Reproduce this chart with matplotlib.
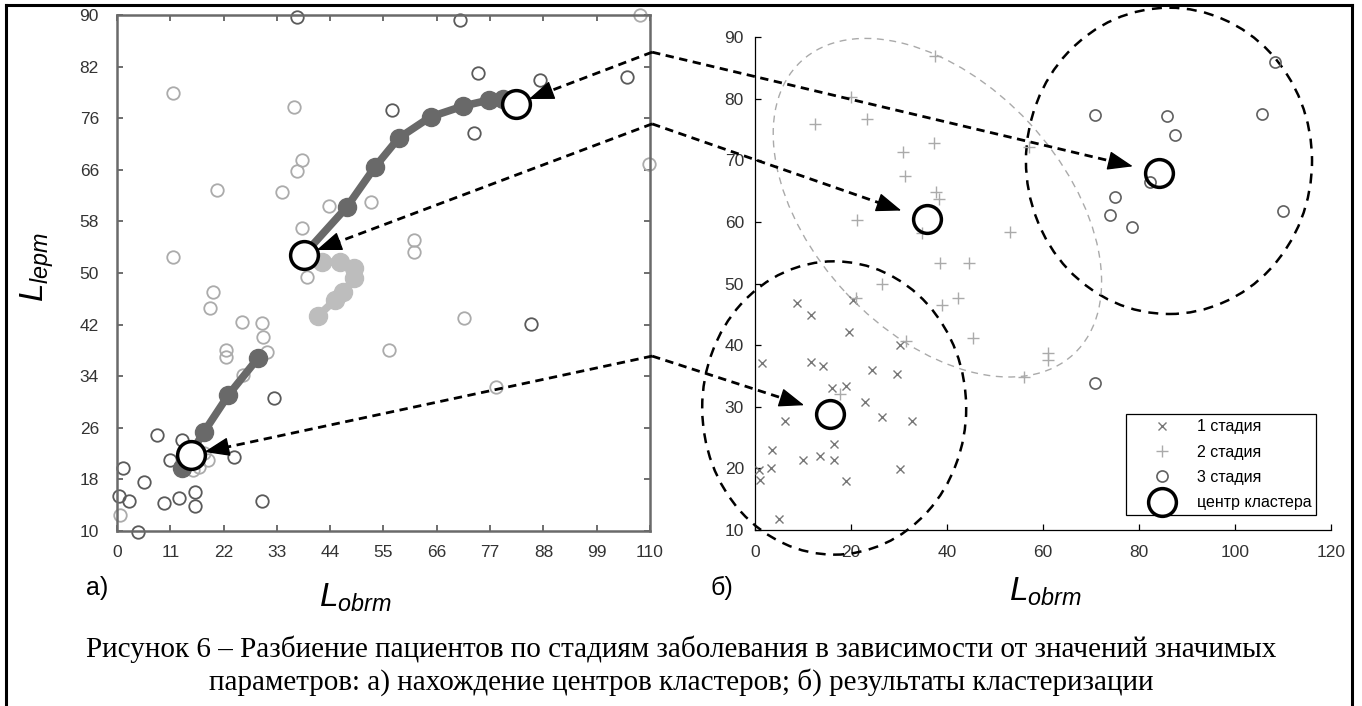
import numpy as np
import matplotlib
matplotlib.use("Agg")
import matplotlib.pyplot as plt
from matplotlib import font_manager
from matplotlib.lines import Line2D
from matplotlib.patches import Ellipse, FancyArrowPatch
from matplotlib.transforms import Affine2D, IdentityTransform

# ---------------- данные ----------------
# а) нахождение центров кластеров
dark_x = [37.1, 70.7, 56.8, 74.5, 87.2, 105.3, 73.6, 32.5, 85.4, 8.3, 13.4, 11.0, 24.2,
          1.2, 5.6, 12.8, 16.1, 16.1, 9.6, 2.5, 4.3, 30.0, 0.5]
dark_y = [89.7, 89.2, 75.3, 81.0, 80.0, 80.4, 71.7, 30.6, 42.1, 24.9, 24.1, 21.0, 21.5,
          19.8, 17.6, 15.1, 16.0, 13.9, 14.3, 14.6, 9.9, 14.6, 15.5]
light_x = [108.0, 11.6, 36.5, 109.7, 38.2, 37.1, 20.6, 34.0, 43.8, 52.5, 38.2, 61.3, 61.3,
           11.5, 39.2, 19.9, 19.1, 25.8, 30.0, 30.1, 22.4, 22.4, 30.9, 26.0, 56.2, 71.6,
           78.2, 0.7, 17.9, 18.8, 15.7, 16.9]
light_y = [90.0, 77.9, 75.7, 66.9, 67.5, 65.8, 62.9, 62.5, 60.4, 61.0, 57.0, 55.1, 53.3,
           52.5, 49.4, 47.0, 44.6, 42.4, 42.2, 40.1, 38.1, 37.0, 37.8, 34.2, 38.1, 43.0,
           32.3, 12.5, 22.1, 21.0, 19.5, 19.9]

# траектории центров
path3_x = [38.5, 47.4, 53.2, 58.1, 64.7, 71.5, 76.7, 79.6]
path3_y = [52.8, 60.2, 66.4, 70.9, 74.2, 75.9, 76.8, 77.0]
path1_x = [29.1, 23.0, 17.9, 13.4]
path1_y = [36.8, 31.1, 25.3, 19.8]
path2_x = [41.4, 45.0, 46.6, 49.0, 49.0, 46.0, 42.3, 38.5]
path2_y = [43.3, 45.8, 47.0, 49.2, 50.8, 51.7, 51.7, 52.8]

centers_a_x = [15.2, 38.5, 82.3]
centers_a_y = [21.8, 52.8, 76.2]

xticks_a = [0, 11, 22, 33, 44, 55, 66, 77, 88, 99, 110]
yticks_a = [10, 18, 26, 34, 42, 50, 58, 66, 74, 82, 90]
ylabels_a = ["10", "18", "26", "34", "42", "50", "58", "66", "76", "82", "90"]

# б) результаты кластеризации
st1_x = [6.25, 3.5, 3.3, 0.8, 1.0, 10.1, 13.5, 16.5, 16.5, 19.0, 30.3, 32.8, 26.4, 22.9,
         5.0, 1.5, 8.75, 11.7, 11.7, 14.2, 16.0, 19.0, 19.6, 20.5, 24.4, 29.5, 30.2]
st1_y = [27.7, 23.0, 20.1, 19.7, 18.1, 21.4, 22.0, 23.9, 21.4, 18.0, 19.9, 27.7, 28.4, 30.7,
         11.8, 37.1, 46.9, 44.9, 37.3, 36.6, 33.0, 33.4, 42.2, 47.3, 35.9, 35.3, 40.0]
st2_x = [37.6, 19.9, 12.6, 23.3, 37.3, 30.9, 31.3, 37.7, 38.4, 21.2, 34.7, 53.2, 38.5,
         44.6, 26.5, 57.1, 21.0, 39.0, 42.2, 45.4, 31.4, 61.0, 61.0, 56.0, 17.8]
st2_y = [86.9, 80.3, 75.9, 76.7, 72.8, 71.4, 67.4, 64.8, 63.7, 60.3, 58.2, 58.4, 53.3,
         53.3, 50.0, 72.2, 47.7, 46.5, 47.6, 41.1, 40.6, 38.7, 37.6, 34.9, 32.0]
st3_x = [70.9, 85.8, 87.4, 105.7, 108.4, 82.3, 75.0, 73.9, 78.6, 110.0, 70.8]
st3_y = [77.3, 77.1, 74.1, 77.5, 86.0, 66.4, 64.0, 61.1, 59.1, 61.8, 33.8]

centers_b_x = [15.6, 35.8, 84.2]
centers_b_y = [28.9, 60.4, 68.0]

legend_labels = ["1 стадия", "2 стадия", "3 стадия", "центр кластера"]

caption = ("Рисунок 6 – Разбиение пациентов по стадиям заболевания в зависимости от значений значимых\n"
           "параметров: а) нахождение центров кластеров; б) результаты кластеризации")

# ---------------- шрифты ----------------
names = {f.name for f in font_manager.fontManager.ttflist}
narrow = "Liberation Sans Narrow" if "Liberation Sans Narrow" in names else "Liberation Sans"
plt.rcParams["font.family"] = ["Liberation Sans", "DejaVu Sans"]
plt.rcParams["mathtext.fontset"] = "custom"
plt.rcParams["mathtext.it"] = "Liberation Sans:italic"
plt.rcParams["mathtext.rm"] = "Liberation Sans"

W, H = 1362, 706
fig = plt.figure(figsize=(W / 100, H / 100), dpi=100)

# ---------------- а) ----------------
ax1 = fig.add_axes([117 / W, 1 - 531 / H, 533 / W, 516 / H])
ax1.set_xlim(0, 110)
ax1.set_ylim(10, 90)
for s in ax1.spines.values():
    s.set_color("#6a6a6a")
    s.set_linewidth(1.8)
ax1.set_xticks(xticks_a)
ax1.set_yticks(yticks_a)
ax1.set_yticklabels(ylabels_a)
ax1.tick_params(direction="in", length=4, width=1.2, color="#555555",
                top=True, right=True, labelsize=12.5, labelcolor="#333333")
ax1.tick_params(axis="y", pad=13)
ax1.tick_params(axis="x", pad=10)
for lab in ax1.get_xticklabels() + ax1.get_yticklabels():
    lab.set_family(narrow)

ax1.plot(light_x, light_y, "o", ms=9, mfc="none", mec="#ababab", mew=1.3, clip_on=False, zorder=2)
ax1.plot(dark_x, dark_y, "o", ms=9, mfc="none", mec="#5a5a5a", mew=1.3, clip_on=False, zorder=2)
ax1.plot(path2_x, path2_y, "-o", color="#bdbdbd", lw=5.5, ms=13, zorder=3)
ax1.plot(path1_x, path1_y, "-o", color="#696969", lw=5.5, ms=13, zorder=3)
ax1.plot(path3_x, path3_y, "-o", color="#696969", lw=5.5, ms=13, zorder=3)
ax1.plot(centers_a_x, centers_a_y, "o", ms=20, mfc="white", mec="black", mew=2.5, zorder=5)

# ---------------- б) ----------------
ax2 = fig.add_axes([755 / W, 1 - 530 / H, 576 / W, 493 / H])
ax2.set_xlim(0, 120)
ax2.set_ylim(10, 90)
ax2.spines["top"].set_visible(False)
ax2.spines["right"].set_visible(False)
for s in ("left", "bottom"):
    ax2.spines[s].set_linewidth(0.9)
ax2.set_xticks(np.arange(0, 121, 20))
ax2.set_yticks(np.arange(10, 91, 10))
ax2.tick_params(direction="in", length=4, width=0.9, labelsize=12.5, labelcolor="#333333")
ax2.tick_params(axis="y", pad=8)
ax2.tick_params(axis="x", pad=11)
for lab in ax2.get_xticklabels() + ax2.get_yticklabels():
    lab.set_family(narrow)

ax2.plot(st1_x, st1_y, "x", ms=5.5, mew=1.0, color="#777777", clip_on=False, zorder=3)
ax2.plot(st2_x, st2_y, "+", ms=8, mew=1.0, color="#aaaaaa", clip_on=False, zorder=3)
ax2.plot(st3_x, st3_y, "o", ms=8, mfc="none", mec="#606060", mew=1.2, clip_on=False, zorder=3)

# границы кластеров 1 и 3
for (cx, cy, w, h) in [(16.5, 29.8, 55.0, 47.6), (86.25, 69.9, 59.6, 49.7)]:
    ax2.add_patch(Ellipse((cx, cy), w, h, fill=False, ec="black", lw=1.8,
                          ls=(0, (4, 3)), clip_on=False, zorder=2))
# наклонная граница кластера 2 (полуоси заданы в пикселях экрана)
sx = 576 / 120
sy = 493 / 80
ell2 = Ellipse((38.0 * sx, 62.3 * sy), 2 * 200, 2 * 125, angle=-47, fill=False,
               ec="#aaaaaa", lw=1.0, ls=(0, (5, 4)), clip_on=False, zorder=2,
               transform=Affine2D().scale(1 / sx, 1 / sy) + ax2.transData)
ax2.add_patch(ell2)

ax2.plot(centers_b_x, centers_b_y, "o", ms=20, mfc="none", mec="black", mew=2.5,
         zorder=5, clip_on=False)

handles = [
    Line2D([], [], ls="", marker="x", color="#777777", ms=5.5, mew=1.0),
    Line2D([], [], ls="", marker="+", color="#aaaaaa", ms=8, mew=1.0),
    Line2D([], [], ls="", marker="o", mfc="none", mec="#606060", ms=8, mew=1.2),
    Line2D([], [], ls="", marker="o", mfc="none", mec="black", ms=20, mew=2.5),
]
leg = ax2.legend(handles, legend_labels, loc="lower right", bbox_to_anchor=(0.974, 0.03),
                 frameon=True, fancybox=False, framealpha=1, edgecolor="black",
                 prop={"family": narrow, "size": 11.5}, handletextpad=0.15,
                 labelspacing=0.65, borderpad=0.3, handlelength=4.0, borderaxespad=0)
leg.get_frame().set_linewidth(0.9)

# ---------------- стрелки (в пикселях экрана) ----------------
kinks_y = [0.339, 0.789, 0.928]
head_len = 22
for i, ky in enumerate(kinks_y):
    p0 = ax1.transAxes.transform((1.004, ky))
    for ax, cx, cy, gap in [(ax1, centers_a_x[i], centers_a_y[i], 14),
                            (ax2, centers_b_x[i], centers_b_y[i], 27)]:
        p1 = ax.transData.transform((cx, cy))
        u = (p1 - p0) / np.hypot(*(p1 - p0))
        tip = p1 - u * gap
        base = tip - u * head_len
        fig.add_artist(Line2D([p0[0], base[0] + u[0] * 4], [p0[1], base[1] + u[1] * 4],
                              transform=IdentityTransform(), color="black", lw=2.0,
                              ls=(0, (3, 2)), zorder=10))
        fig.add_artist(FancyArrowPatch(base, tip, transform=IdentityTransform(),
                                       arrowstyle="-|>,head_length=16,head_width=6",
                                       mutation_scale=1, shrinkA=0, shrinkB=0,
                                       color="black", lw=1.0, zorder=11))

# ---------------- подписи ----------------
fig.text(37 / W, 1 - 267 / H, r"$L_{lepm}$", rotation=90, fontsize=24,
         ha="center", va="center")
fig.text(355 / W, 1 - 598 / H, r"$L_{obrm}$", fontsize=24, ha="center", va="center")
fig.text(1045 / W, 1 - 592 / H, r"$L_{obrm}$", fontsize=24, ha="center", va="center")
fig.text(97 / W, 1 - 588 / H, "а)", fontsize=18, ha="center", va="center")
fig.text(722 / W, 1 - 588 / H, "б)", fontsize=18, ha="center", va="center", family=narrow)
fig.text(0.5, 1 - 666 / H, caption, fontsize=21, ha="center", va="center",
         family=["Liberation Serif", "DejaVu Serif"], linespacing=1.25)

# рамка
for xs, ys in [([6, 6], [5, H]), ([1352, 1352], [5, H]), ([6, 1352], [5, 5])]:
    fig.add_artist(Line2D([x / W for x in xs], [1 - y / H for y in ys],
                          transform=fig.transFigure, color="black", lw=2.2))

fig.savefig("out.png", dpi=100)
